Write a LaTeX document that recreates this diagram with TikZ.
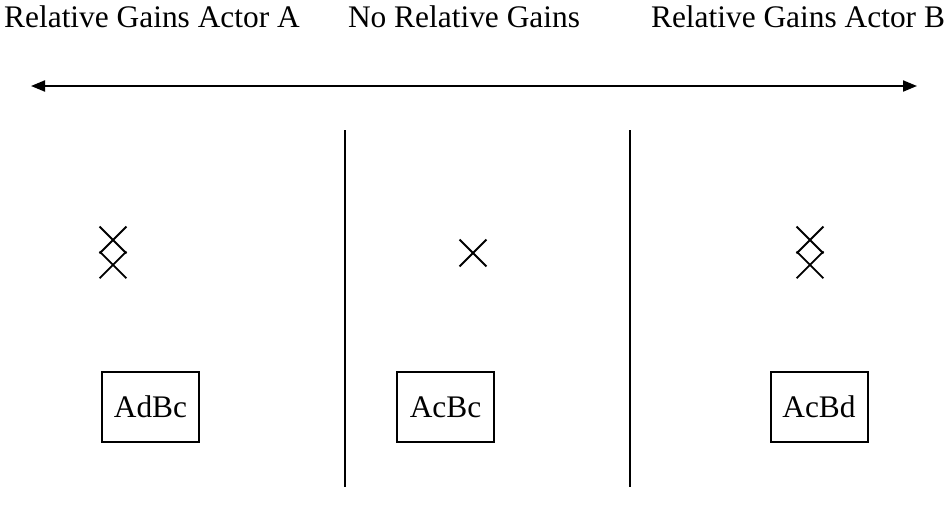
\documentclass[tikz,border=0pt]{standalone}
\usepackage{fontspec}
\setmainfont{Liberation Serif}
\usetikzlibrary{arrows.meta,shapes.misc,positioning}
\tikzset{
    gainbox/.style={draw, line width=1pt, minimum width=48.5pt, minimum height=35pt, inner sep=0pt},
    crossmark/.style={cross out, draw, line width=0.9pt, minimum size=12.5pt, inner sep=0pt},
    divider/.style={line width=1pt},
    gainscale/.style={{Triangle[length=7pt, width=5.5pt]}-{Triangle[length=7pt, width=5.5pt]}, line width=1pt}
}

\begin{document}
\begin{tikzpicture}[x=0.5pt, y=-0.5pt, font=\fontsize{15.7}{18}\selectfont]
    \useasboundingbox (0,0) rectangle (948,515);
    % headings
    \node[anchor=base] (gainsA) at (152,27) {Relative Gains Actor A};
    \node[anchor=base] (nogains) at (464,27) {No Relative Gains};
    \node[anchor=base] (gainsB) at (798,27) {Relative Gains Actor B};
    % scale
    \coordinate (leftend) at (31,86);
    \coordinate (rightend) at (917,86);
    \draw[gainscale] (leftend) -- (rightend);
    % dividers
    \coordinate (div1top) at (345,130);
    \coordinate (div1bot) at (345,487);
    \coordinate (div2top) at (630,130);
    \coordinate (div2bot) at (630,487);
    \draw[divider] (div1top) -- (div1bot);
    \draw[divider] (div2top) -- (div2bot);
    % crosses
    \node[crossmark] (xA1) at (113,240) {};
    \node[crossmark, below=-1pt of xA1] (xA2) {};
    \node[crossmark] (x0) at (473,253) {};
    \node[crossmark] (xB1) at (810,240) {};
    \node[crossmark, below=-1pt of xB1] (xB2) {};
    % outcomes
    \node[gainbox] (AdBc) at (150.5,407) {AdBc};
    \node[gainbox] (AcBc) at (445.5,407) {AcBc};
    \node[gainbox] (AcBd) at (819,407) {AcBd};
\end{tikzpicture}
\end{document}
